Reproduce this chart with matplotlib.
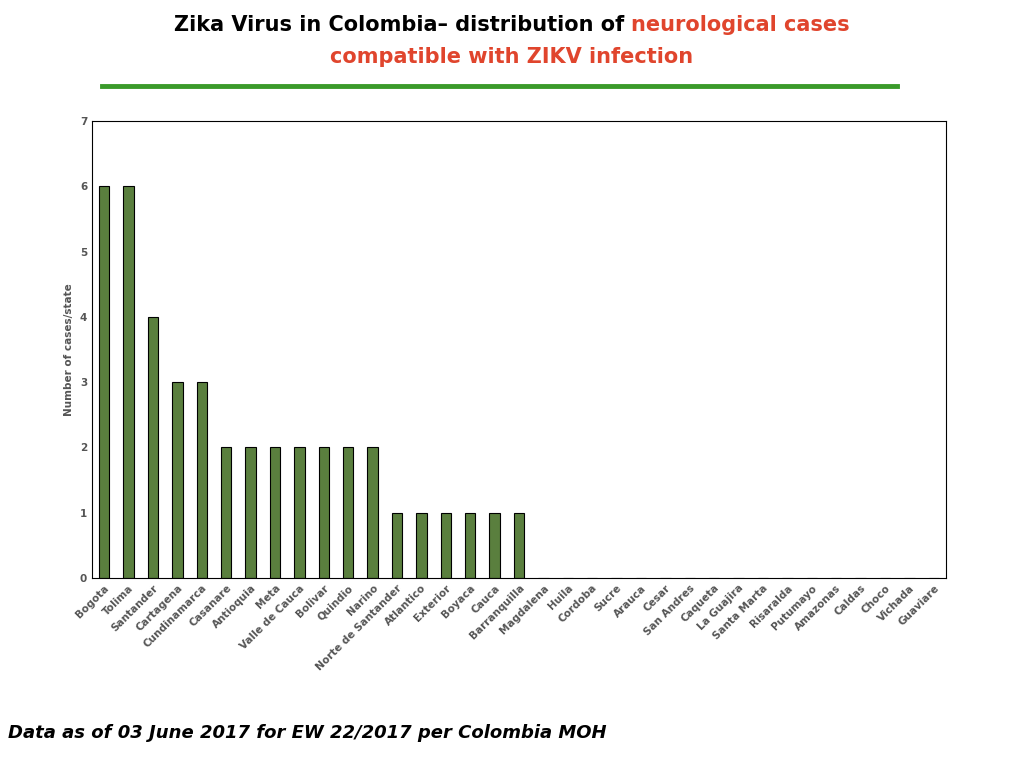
import matplotlib
matplotlib.use('Agg')
import matplotlib.pyplot as plt
from matplotlib.lines import Line2D

states = ['Bogota', 'Tolima', 'Santander', 'Cartagena', 'Cundinamarca', 'Casanare',
          'Antioquia', 'Meta', 'Valle de Cauca', 'Bolivar', 'Quindio', 'Narino',
          'Norte de Santander', 'Atlantico', 'Exterior', 'Boyaca', 'Cauca', 'Barranquilla',
          'Magdalena', 'Huila', 'Cordoba', 'Sucre', 'Arauca', 'Cesar', 'San Andres',
          'Caqueta', 'La Guajira', 'Santa Marta', 'Risaralda', 'Putumayo', 'Amazonas',
          'Caldas', 'Choco', 'Vichada', 'Guaviare']
cases = [6, 6, 4, 3, 3, 2, 2, 2, 2, 2, 2, 2, 1, 1, 1, 1, 1, 1,
         0, 0, 0, 0, 0, 0, 0, 0, 0, 0, 0, 0, 0, 0, 0, 0, 0]

fig = plt.figure(figsize=(10.24, 7.68), dpi=100)
ax = fig.add_axes([92/1024, 1-578/768, (946-92)/1024, (578-121)/768])
x = list(range(len(states)))
ax.bar(x, cases, width=0.42, color='#5a7f3e', edgecolor='black', linewidth=0.8)
ax.set_xlim(-0.5, len(states) - 0.5)
ax.set_ylim(0, 7)
ax.set_yticks(range(8))
ax.tick_params(axis='both', length=0, labelsize=7.5, labelcolor='#555555')
for lab in ax.get_yticklabels():
    lab.set_fontweight('bold')
ax.set_xticks(x)
ax.set_xticklabels(states, rotation=45, ha='right', rotation_mode='anchor',
                   fontweight='bold', fontsize=7.5, color='#555555')
ax.set_ylabel('Number of cases/state', fontsize=7.5, fontweight='bold', color='#555555')
for s in ax.spines.values():
    s.set_linewidth(0.8)

# title with mixed colours
red = '#e0452d'
t1 = fig.text(0, 1-25/768, 'Zika Virus in Colombia\u2013 distribution of ', fontsize=15,
              fontweight='bold', color='black', va='center')
t2 = fig.text(0, 1-25/768, 'neurological cases', fontsize=15, fontweight='bold',
              color=red, va='center')
fig.canvas.draw()
r = fig.canvas.get_renderer()
w1 = t1.get_window_extent(r).width
w2 = t2.get_window_extent(r).width
start = 512 - (w1 + w2) / 2
t1.set_x(start / 1024)
t2.set_x((start + w1) / 1024)
fig.text(0.5, 1-57/768, 'compatible with ZIKV infection', fontsize=15, fontweight='bold',
         color=red, ha='center', va='center')
fig.add_artist(Line2D([102/1024, 897/1024], [1-86/768, 1-86/768], color='#3a9a2a', linewidth=3.5))

fig.text(8/1024, 1-733/768, 'Data as of 03 June 2017 for EW 22/2017 per Colombia MOH',
         fontsize=13, fontweight='bold', fontstyle='italic', va='center')

fig.savefig('out.png', dpi=100)
